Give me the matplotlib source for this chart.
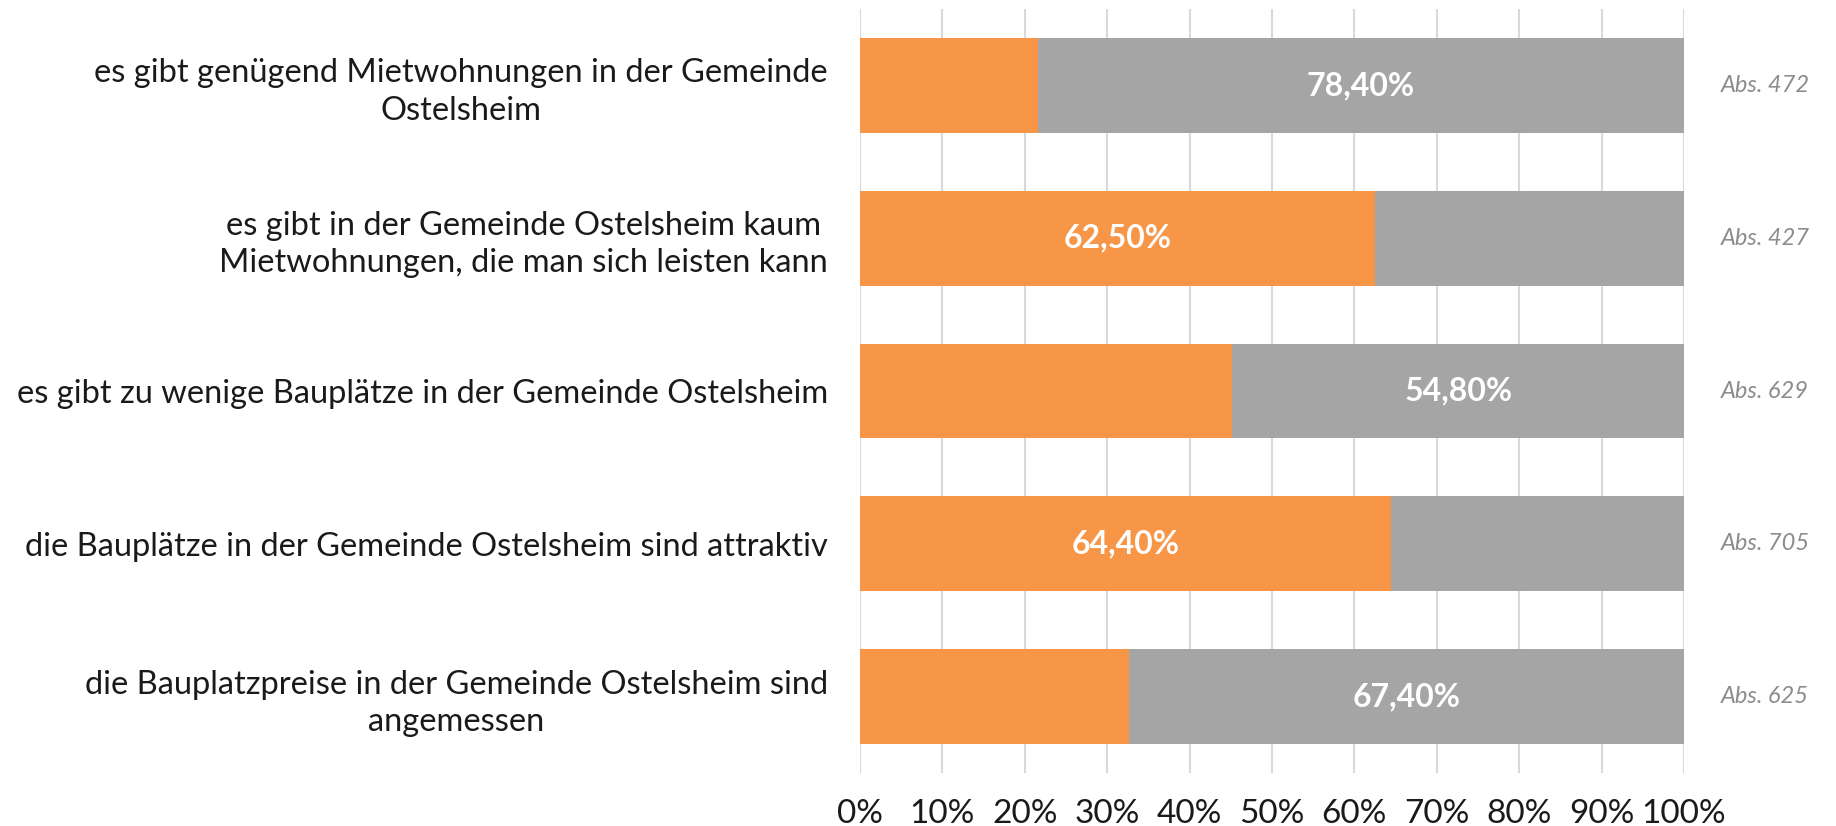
import matplotlib.pyplot as plt

plt.rcParams['font.family'] = ['Lato', 'DejaVu Sans']

kategorien = ['es gibt genügend Mietwohnungen in der Gemeinde\nOstelsheim',
              'es gibt in der Gemeinde Ostelsheim kaum\nMietwohnungen, die man sich leisten kann',
              'es gibt zu wenige Bauplätze in der Gemeinde Ostelsheim',
              'die Bauplätze in der Gemeinde Ostelsheim sind attraktiv',
              'die Bauplatzpreise in der Gemeinde Ostelsheim sind\nangemessen']
ja = [21.6, 62.5, 45.2, 64.4, 32.6]
nein = [78.4, 37.5, 54.8, 35.6, 67.4]
absolut = [472, 427, 629, 705, 625]
xticks = [0, 10, 20, 30, 40, 50, 60, 70, 80, 90, 100]

fig = plt.figure(figsize=(18.36, 8.26), dpi=100)
ax = fig.add_axes([860/1836, 1-773/826, 824/1836, (773-9)/826])

y = list(range(len(kategorien)))
ax.barh(y, ja, height=0.62, color='#F79646', zorder=3)
ax.barh(y, nein, left=ja, height=0.62, color='#A5A5A5', zorder=3)

for i in y:
    if ja[i] > nein[i]:
        ax.text(ja[i]/2, i, ('%.2f%%' % ja[i]).replace('.', ','), ha='center', va='center',
                color='white', fontsize=23, fontweight='bold', zorder=4)
    else:
        ax.text(ja[i] + nein[i]/2, i, ('%.2f%%' % nein[i]).replace('.', ','), ha='center', va='center',
                color='white', fontsize=23, fontweight='bold', zorder=4)
    ax.text(104.5, i, 'Abs. ' + str(absolut[i]), ha='left', va='center',
            color='#8C8C8C', fontsize=17, style='italic')

ax.set_xlim(0, 100)
ax.set_ylim(4.5, -0.5)
ax.set_xticks(xticks)
ax.set_xticklabels([str(t) + '%' for t in xticks], fontsize=24, color='#1A1A1A')
ax.set_yticks(y)
ax.set_yticklabels(kategorien, fontsize=23.5, color='#1A1A1A', linespacing=1.3)
for lab in ax.get_yticklabels():
    lab.set_horizontalalignment('right')
    lab.set_multialignment('center')
ax.tick_params(axis='y', length=0, pad=23)
ax.tick_params(axis='x', length=0, pad=19)
ax.grid(axis='x', color='#D9D9D9', linewidth=1.5, zorder=0)
for s in ax.spines.values():
    s.set_visible(False)

fig.savefig('out.png', dpi=100)
